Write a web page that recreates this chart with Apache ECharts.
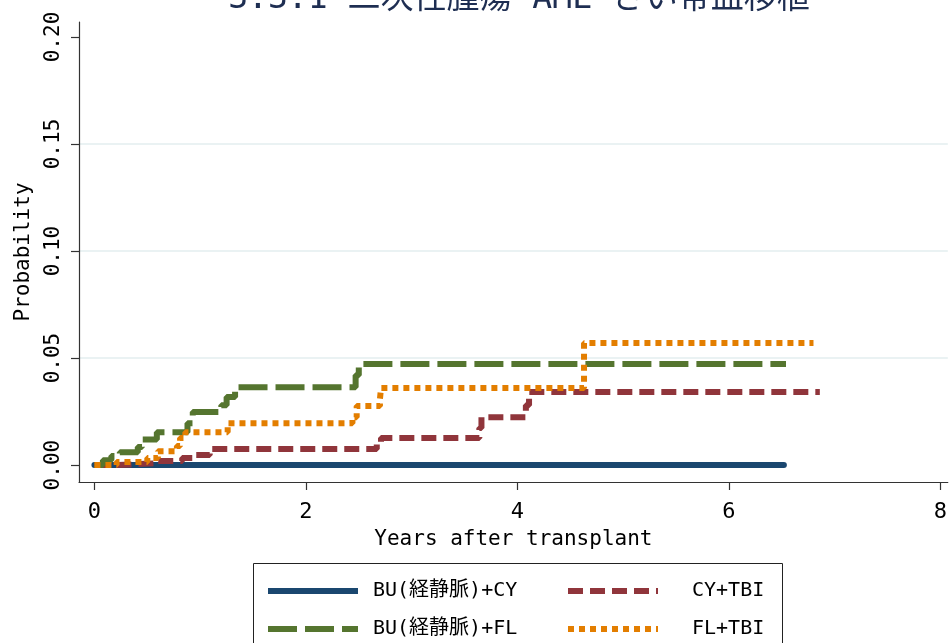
<!DOCTYPE html>
<html>
<head>
<meta charset="utf-8">
<script src="https://cdn.jsdelivr.net/npm/echarts@6/dist/echarts.min.js"></script>
<style>html,body{margin:0;padding:0;background:#fff}#c{width:950px;height:643px}</style>
</head>
<body>
<div id="c"></div>
<script>
// ---- data ----
const titleText = '3.3.1 二次性腫瘍 AML さい帯血移植';
const seriesNames = ['BU(経静脈)+CY', 'CY+TBI', 'BU(経静脈)+FL', 'FL+TBI'];
const xTicks = [0, 2, 4, 6, 8];
const yTicks = [0, 0.05, 0.10, 0.15, 0.20];
const yGrid = [0.05, 0.10, 0.15];

const buCyT = [0, 6.52];
const buCyP = [0, 0];

const cyTbiT = [0, 0.22, 0.60, 0.83, 0.95, 1.09, 2.67, 2.71, 3.64, 3.66, 4.08, 4.11, 6.86];
const cyTbiP = [0, 0.0009, 0.0019, 0.0033, 0.0047, 0.0075, 0.0103, 0.0126, 0.0173, 0.0224, 0.0280, 0.0341, 0.0341];

const buFlT = [0, 0.08, 0.16, 0.24, 0.41, 0.45, 0.59, 0.88, 0.93, 1.20, 1.25, 1.33, 2.47, 2.50, 6.54];
const buFlP = [0, 0.0023, 0.0042, 0.0060, 0.0084, 0.0120, 0.0154, 0.0196, 0.0248, 0.0280, 0.0318, 0.0364, 0.0420, 0.0472, 0.0472];

const flTbiT = [0, 0.21, 0.50, 0.60, 0.78, 0.81, 0.86, 1.26, 2.44, 2.48, 2.70, 2.71, 4.63, 6.80];
const flTbiP = [0, 0.0014, 0.0033, 0.0065, 0.0089, 0.0126, 0.0154, 0.0196, 0.0224, 0.0276, 0.0308, 0.0360, 0.0570, 0.0570];

// ---- styling ----
const colors = ['#1a476f', '#90353b', '#55752f', '#e37e00'];
const dashes = ['solid', [15, 7], [29, 8], [6, 5]];
const MONO = '"DejaVu Sans Mono", "Noto Sans CJK JP", monospace';

function pairs(t, p) { return t.map((v, i) => [v, p[i]]); }
const seriesData = [pairs(buCyT, buCyP), pairs(cyTbiT, cyTbiP), pairs(buFlT, buFlP), pairs(flTbiT, flTbiP)];

function legendItem(i) {
  return {
    name: seriesNames[i],
    itemStyle: {opacity: 0},
    lineStyle: {color: colors[i], width: 6, type: dashes[i], cap: 'butt', opacity: 1}
  };
}

const chart = echarts.init(document.getElementById('c'), null, {renderer: 'canvas'});
chart.setOption({
  animation: false,
  backgroundColor: '#fff',
  title: {
    text: titleText, left: 514, top: -22, textAlign: 'center',
    textStyle: {fontFamily: MONO, fontSize: 33, fontWeight: 'normal', color: '#1e2e52'}
  },
  grid: {left: 79, right: 0, top: 22, bottom: 161, containLabel: false},
  xAxis: {
    type: 'value', min: -0.146, max: 8.07,
    name: 'Years after transplant', nameLocation: 'middle', nameGap: 47,
    nameTextStyle: {fontFamily: MONO, fontSize: 21, color: '#000'},
    axisLine: {show: true, onZero: false, lineStyle: {color: '#333', width: 1.2}},
    axisTick: {show: true, length: 8, customValues: xTicks, lineStyle: {color: '#333', width: 1.2}},
    axisLabel: {customValues: xTicks, margin: 19, fontFamily: MONO, fontSize: 22, color: '#000'},
    splitLine: {show: false}
  },
  yAxis: [{
    type: 'value', min: -0.0079, max: 0.207,
    name: 'Probability', nameLocation: 'middle', nameGap: 45,
    nameTextStyle: {fontFamily: MONO, fontSize: 21, color: '#000'},
    axisLine: {show: true, onZero: false, lineStyle: {color: '#333', width: 1.2}},
    axisTick: {show: true, length: 8, customValues: yTicks, lineStyle: {color: '#333', width: 1.2}},
    axisLabel: {customValues: yTicks, rotate: 90, margin: 15, fontFamily: MONO, fontSize: 21, color: '#000',
      formatter: v => v.toFixed(2)},
    splitLine: {show: false}
  }, {
    type: 'value', min: -0.0079, max: 0.207, position: 'left',
    axisLine: {show: false, onZero: false}, axisLabel: {show: false},
    axisTick: {show: false, customValues: yGrid},
    splitLine: {show: true, lineStyle: {color: '#eaf2f3', width: 2}}
  }],
  legend: [{
    orient: 'vertical', left: 265, top: 581, height: 70, padding: 0,
    itemWidth: 90, itemHeight: 14, itemGap: 18,
    data: [legendItem(0), legendItem(2)],
    textStyle: {fontFamily: MONO, fontSize: 20, color: '#000', padding: [0, 0, 0, 10]}
  }, {
    orient: 'vertical', left: 565, top: 581, height: 70, padding: 0,
    itemWidth: 90, itemHeight: 14, itemGap: 18,
    data: [legendItem(1), legendItem(3)],
    textStyle: {fontFamily: MONO, fontSize: 20, color: '#000', padding: [0, 0, 0, 29]}
  }],
  graphic: [{
    type: 'rect', shape: {x: 253.5, y: 563.5, width: 529, height: 90},
    style: {fill: 'none', stroke: '#222', lineWidth: 1}, z: -1
  }],
  series: seriesData.map((d, i) => ({
    name: seriesNames[i], type: 'line', step: 'end', data: d,
    yAxisIndex: 0, symbol: 'none', showSymbol: false,
    lineStyle: {color: colors[i], width: 6, type: dashes[i], cap: i === 0 ? 'round' : 'butt'},
    itemStyle: {color: colors[i]},
    z: 2 + i
  }))
});
</script>
</body>
</html>
